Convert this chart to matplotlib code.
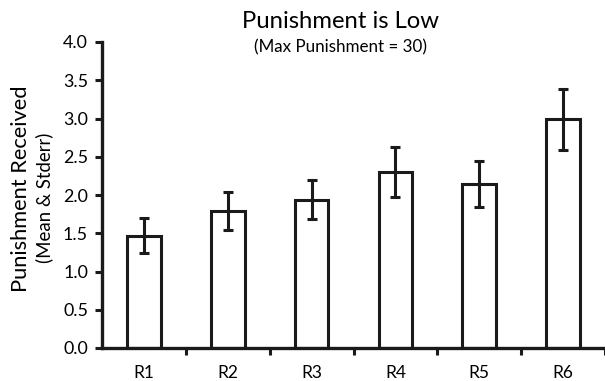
import matplotlib
matplotlib.use("Agg")
import matplotlib.pyplot as plt

plt.rcParams['font.family'] = ['Lato', 'DejaVu Sans']

rounds = ['R1', 'R2', 'R3', 'R4', 'R5', 'R6']
means = [1.47, 1.79, 1.94, 2.30, 2.14, 2.99]
errs = [0.23, 0.25, 0.26, 0.33, 0.30, 0.40]

fig = plt.figure(figsize=(6.05, 3.81), dpi=100)
ax = fig.add_axes([102 / 605, 1 - 348 / 381, 1 - 102 / 605, (348 - 42) / 381])

x = list(range(len(rounds)))
ax.bar(x, means, width=0.4, color='white', edgecolor='#1a1a1a', linewidth=2.2,
       yerr=errs, error_kw=dict(ecolor='#1a1a1a', elinewidth=2.2, capsize=3.5, capthick=2.2),
       zorder=2)

ax.set_ylim(0, 4.0)
ax.set_xlim(-0.5, 5.45)
ax.set_yticks([0, 0.5, 1.0, 1.5, 2.0, 2.5, 3.0, 3.5, 4.0])
ax.set_yticklabels(['%.1f' % v for v in ax.get_yticks()])

# category labels centered, ticks on boundaries
ax.set_xticks(x)
ax.set_xticklabels(rounds)
ax.tick_params(axis='x', length=0, pad=12)
ax.set_xticks([i + 0.5 for i in range(6)], minor=True)
ax.tick_params(axis='x', which='minor', length=5, width=2.2, direction='out', color='#1a1a1a')
ax.tick_params(axis='y', length=5, width=2.2, direction='out', color='#1a1a1a', pad=5)

for s in ['top', 'right']:
    ax.spines[s].set_visible(False)
for s in ['left', 'bottom']:
    ax.spines[s].set_linewidth(2.4)
    ax.spines[s].set_color('#1a1a1a')
ax.spines['left'].set_bounds(0, 4.0)

title = fig.text(341 / 605, 1 - 28 / 381, 'Punishment is Low', ha='center', va='baseline', fontsize=16)
sub = fig.text(341 / 605, 1 - 52 / 381, '(Max Punishment = 30)', ha='center', va='baseline', fontsize=12)
ylab = fig.text(21 / 605, 1 - 189 / 381, 'Punishment Received', ha='center', va='center',
                rotation=90, fontsize=16)
ysub = fig.text(44 / 605, 1 - 198 / 381, '(Mean & Stderr)', ha='center', va='center',
                rotation=90, fontsize=12)

# scale font sizes so the text spans match the reference
fig.canvas.draw()
r = fig.canvas.get_renderer()


def fit(t, target, use_height=False):
    bb = t.get_window_extent(r)
    size = bb.height if use_height else bb.width
    t.set_fontsize(t.get_fontsize() * target / size)


fit(title, 198)
fit(sub, 172)
fit(ylab, 208, use_height=True)
fit(ysub, 130, use_height=True)

yt = ax.get_yticklabels()[-1]
ysize = yt.get_fontsize() * 25 / yt.get_window_extent(r).width
xt = ax.get_xticklabels()[0]
xsize = xt.get_fontsize() * 21 / xt.get_window_extent(r).width
ax.tick_params(axis='y', labelsize=ysize)
ax.tick_params(axis='x', labelsize=xsize)

fig.savefig('out.png', dpi=100)
